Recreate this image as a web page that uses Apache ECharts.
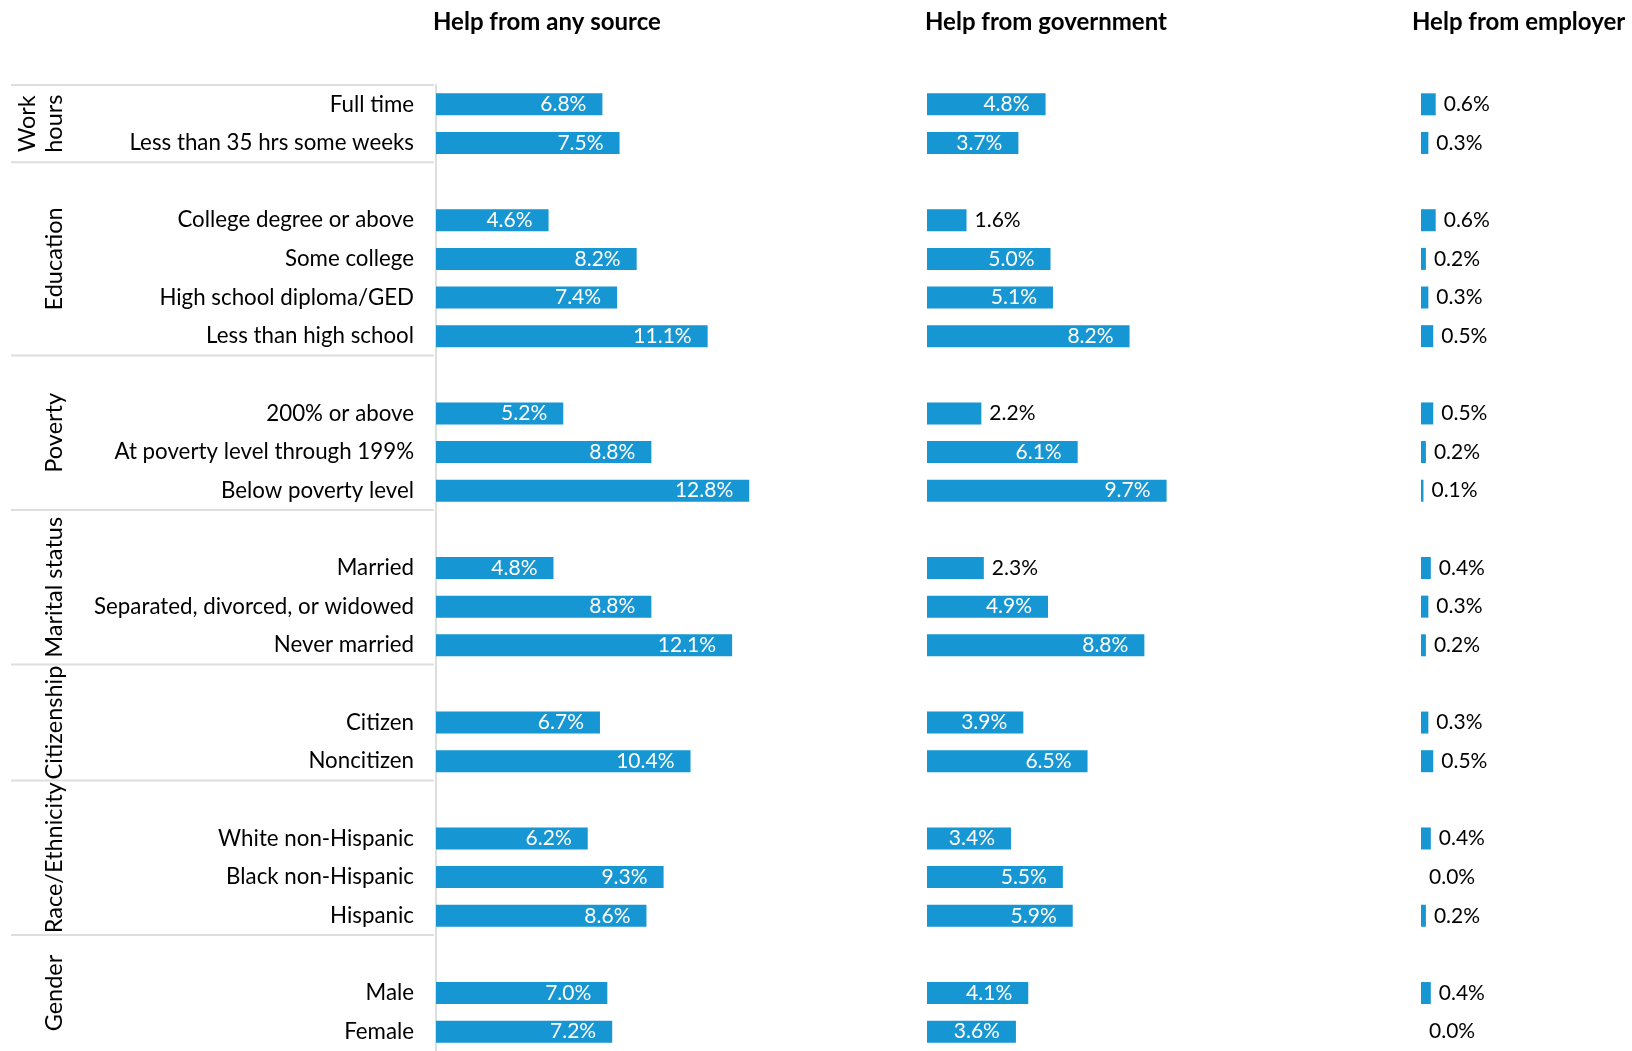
<!DOCTYPE html>
<html>
<head>
<meta charset="utf-8">
<script src="https://cdn.jsdelivr.net/npm/echarts@6.0.0/dist/echarts.min.js"></script>
<style>
html,body{margin:0;padding:0;background:#fff;}
#chart{width:1632px;height:1051px;}
</style>
</head>
<body>
<div id="chart"></div>
<script>
// ---- data ----
const panelTitles = ['Help from any source', 'Help from government', 'Help from employer'];
const groupNames = ['Work\nhours', 'Education', 'Poverty', 'Marital status', 'Citizenship', 'Race/Ethnicity', 'Gender'];
const groupSizes = [2, 4, 3, 3, 2, 3, 2];
const rowLabels = [
  'Full time', 'Less than 35 hrs some weeks',
  'College degree or above', 'Some college', 'High school diploma/GED', 'Less than high school',
  '200% or above', 'At poverty level through 199%', 'Below poverty level',
  'Married', 'Separated, divorced, or widowed', 'Never married',
  'Citizen', 'Noncitizen',
  'White non-Hispanic', 'Black non-Hispanic', 'Hispanic',
  'Male', 'Female'
];
const anySource  = [6.8, 7.5, 4.6, 8.2, 7.4, 11.1, 5.2, 8.8, 12.8, 4.8, 8.8, 12.1, 6.7, 10.4, 6.2, 9.3, 8.6, 7.0, 7.2];
const government = [4.8, 3.7, 1.6, 5.0, 5.1, 8.2, 2.2, 6.1, 9.7, 2.3, 4.9, 8.8, 3.9, 6.5, 3.4, 5.5, 5.9, 4.1, 3.6];
const employer   = [0.6, 0.3, 0.6, 0.2, 0.3, 0.5, 0.5, 0.2, 0.1, 0.4, 0.3, 0.2, 0.3, 0.5, 0.4, 0.0, 0.2, 0.4, 0.0];

// ---- build category slots (blank slot before each group except the first) ----
const categories = [];
const slotRow = [];          // row index for each slot, -1 for blank
const groupSpans = [];       // [firstSlot, lastSlot] for each group
let r = 0;
groupSizes.forEach((n, g) => {
  const first = categories.length;
  if (g > 0) { categories.push('__gap' + g); slotRow.push(-1); }
  for (let i = 0; i < n; i++) { categories.push(rowLabels[r]); slotRow.push(r); r++; }
  groupSpans.push([first, categories.length - 1]);
});

const BLUE = '#1696d2';
const FONT = 'Lato';

function makeData(vals, insideMin) {
  return slotRow.map(ri => {
    if (ri < 0) return '-';
    const v = vals[ri];
    const inside = v >= insideMin;
    return {
      value: v,
      label: {
        position: inside ? 'insideRight' : 'right',
        color: inside ? '#ffffff' : '#000000',
        distance: inside ? 16 : 8
      }
    };
  });
}

const panels = [
  { left: 436, width: 440.5, max: 18, vals: anySource, insideMin: 3 },
  { left: 927, width: 444.6, max: 18, vals: government, insideMin: 3 },
  { left: 1421, width: 196, max: 8, vals: employer, insideMin: Infinity }
];
const GRID_TOP = 85, GRID_H = 969;

const option = {
  animation: false,
  backgroundColor: '#ffffff',
  title: panelTitles.map((t, i) => ({
    text: t,
    left: [433, 925, 1412][i],
    top: 10,
    padding: 0,
    textStyle: { fontFamily: FONT, fontWeight: 'bold', fontSize: 24, color: '#000' }
  })),
  grid: panels.map(p => ({ left: p.left, width: p.width, top: GRID_TOP, height: GRID_H, containLabel: false })),
  xAxis: panels.map((p, i) => ({ type: 'value', gridIndex: i, min: 0, max: p.max, show: false })),
  yAxis: panels.map((p, i) => ({
    type: 'category',
    gridIndex: i,
    data: categories,
    inverse: true,
    show: i === 0,
    offset: 2,
    axisLine: { show: true, lineStyle: { color: '#dedede', width: 2 } },
    axisTick: { show: false },
    splitLine: { show: false },
    axisLabel: {
      margin: 20,
      fontFamily: FONT,
      fontSize: 22.3,
      color: '#000',
      formatter: v => (v.indexOf('__gap') === 0 ? '' : v)
    }
  })),
  series: panels.map((p, i) => ({
    type: 'bar',
    xAxisIndex: i,
    yAxisIndex: i,
    barWidth: 22,
    itemStyle: { color: BLUE },
    label: {
      show: true,
      fontFamily: FONT,
      fontSize: 21,
      formatter: d => Number(d.value).toFixed(1) + '%'
    },
    data: makeData(p.vals, p.insideMin)
  }))
};

const chart = echarts.init(document.getElementById('chart'), null, { renderer: 'canvas' });
chart.setOption(option);

// ---- separators and group labels positioned through the category axis ----
const py = idx => chart.convertToPixel({ yAxisIndex: 0 }, idx);
const slot = py(1) - py(0);
const graphics = [];
const lineStyle = { stroke: '#dedede', lineWidth: 2 };
const LX1 = 11, LX2 = 434;
const topY = py(0) - slot / 2;
graphics.push({ type: 'line', shape: { x1: LX1, y1: topY, x2: LX2, y2: topY }, style: lineStyle, silent: true });
groupSpans.forEach(([a, b], g) => {
  const y0 = py(a) - slot / 2;
  const y1 = py(b) + slot / 2;
  if (g < groupSpans.length - 1) {
    graphics.push({ type: 'line', shape: { x1: LX1, y1: y1, x2: LX2, y2: y1 }, style: lineStyle, silent: true });
  }
  graphics.push({
    type: 'text',
    x: 68,
    y: (y0 + y1) / 2,
    rotation: Math.PI / 2,
    silent: true,
    style: {
      text: groupNames[g],
      font: '23.5px Lato',
      fill: '#000',
      align: 'center',
      verticalAlign: 'bottom',
      lineHeight: 27
    }
  });
});
chart.setOption({ graphic: graphics });
</script>
</body>
</html>
